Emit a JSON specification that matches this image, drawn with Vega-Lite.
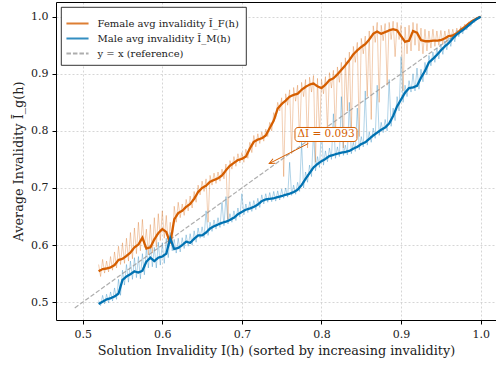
{
"$schema": "https://vega.github.io/schema/vega-lite/v6.json",
"width": 440, "height": 318,
"autosize": {"type": "none"},
"padding": {"left": 56, "top": 2, "right": 0, "bottom": 45},
"datasets": {
"smooth": [
{"x":0.520,"Female":0.554,"Male":0.497},{"x":0.525,"Female":0.558,"Male":0.501},{"x":0.530,"Female":0.559,"Male":0.505},{"x":0.535,"Female":0.561,"Male":0.507},{"x":0.540,"Female":0.565,"Male":0.510},{"x":0.545,"Female":0.574,"Male":0.515},{"x":0.550,"Female":0.576,"Male":0.539},{"x":0.555,"Female":0.581,"Male":0.545},{"x":0.560,"Female":0.587,"Male":0.549},{"x":0.565,"Female":0.596,"Male":0.554},{"x":0.570,"Female":0.601,"Male":0.552},{"x":0.575,"Female":0.613,"Male":0.555},{"x":0.580,"Female":0.594,"Male":0.571},{"x":0.585,"Female":0.596,"Male":0.578},{"x":0.590,"Female":0.610,"Male":0.572},{"x":0.595,"Female":0.621,"Male":0.578},{"x":0.600,"Female":0.628,"Male":0.580},{"x":0.605,"Female":0.623,"Male":0.585},{"x":0.610,"Female":0.603,"Male":0.612},{"x":0.615,"Female":0.645,"Male":0.593},{"x":0.620,"Female":0.656,"Male":0.595},{"x":0.625,"Female":0.660,"Male":0.600},{"x":0.630,"Female":0.667,"Male":0.606},{"x":0.635,"Female":0.672,"Male":0.604},{"x":0.640,"Female":0.681,"Male":0.611},{"x":0.645,"Female":0.693,"Male":0.617},{"x":0.650,"Female":0.700,"Male":0.617},{"x":0.655,"Female":0.704,"Male":0.622},{"x":0.660,"Female":0.711,"Male":0.629},{"x":0.665,"Female":0.714,"Male":0.633},{"x":0.670,"Female":0.717,"Male":0.636},{"x":0.675,"Female":0.722,"Male":0.639},{"x":0.680,"Female":0.731,"Male":0.641},{"x":0.685,"Female":0.739,"Male":0.644},{"x":0.690,"Female":0.744,"Male":0.648},{"x":0.695,"Female":0.749,"Male":0.654},{"x":0.700,"Female":0.751,"Male":0.658},{"x":0.705,"Female":0.755,"Male":0.662},{"x":0.710,"Female":0.769,"Male":0.664},{"x":0.715,"Female":0.781,"Male":0.667},{"x":0.720,"Female":0.785,"Male":0.671},{"x":0.725,"Female":0.787,"Male":0.677},{"x":0.730,"Female":0.792,"Male":0.680},{"x":0.735,"Female":0.805,"Male":0.681},{"x":0.740,"Female":0.818,"Male":0.682},{"x":0.745,"Female":0.839,"Male":0.684},{"x":0.750,"Female":0.847,"Male":0.686},{"x":0.755,"Female":0.853,"Male":0.688},{"x":0.760,"Female":0.860,"Male":0.690},{"x":0.765,"Female":0.863,"Male":0.693},{"x":0.770,"Female":0.865,"Male":0.697},{"x":0.775,"Female":0.872,"Male":0.705},{"x":0.780,"Female":0.877,"Male":0.716},{"x":0.785,"Female":0.881,"Male":0.726},{"x":0.790,"Female":0.883,"Male":0.736},{"x":0.795,"Female":0.878,"Male":0.742},{"x":0.800,"Female":0.875,"Male":0.747},{"x":0.805,"Female":0.881,"Male":0.751},{"x":0.810,"Female":0.889,"Male":0.756},{"x":0.815,"Female":0.892,"Male":0.758},{"x":0.820,"Female":0.899,"Male":0.760},{"x":0.825,"Female":0.907,"Male":0.762},{"x":0.830,"Female":0.915,"Male":0.763},{"x":0.835,"Female":0.924,"Male":0.765},{"x":0.840,"Female":0.934,"Male":0.769},{"x":0.845,"Female":0.941,"Male":0.772},{"x":0.850,"Female":0.947,"Male":0.777},{"x":0.855,"Female":0.952,"Male":0.780},{"x":0.860,"Female":0.960,"Male":0.786},{"x":0.865,"Female":0.970,"Male":0.792},{"x":0.870,"Female":0.974,"Male":0.797},{"x":0.875,"Female":0.970,"Male":0.802},{"x":0.880,"Female":0.973,"Male":0.806},{"x":0.885,"Female":0.976,"Male":0.813},{"x":0.890,"Female":0.978,"Male":0.826},{"x":0.895,"Female":0.976,"Male":0.843},{"x":0.900,"Female":0.966,"Male":0.855},{"x":0.905,"Female":0.956,"Male":0.867},{"x":0.910,"Female":0.958,"Male":0.875},{"x":0.915,"Female":0.975,"Male":0.876},{"x":0.920,"Female":0.972,"Male":0.879},{"x":0.925,"Female":0.959,"Male":0.893},{"x":0.930,"Female":0.957,"Male":0.905},{"x":0.935,"Female":0.957,"Male":0.920},{"x":0.940,"Female":0.958,"Male":0.926},{"x":0.945,"Female":0.958,"Male":0.933},{"x":0.950,"Female":0.959,"Male":0.941},{"x":0.955,"Female":0.962,"Male":0.948},{"x":0.960,"Female":0.966,"Male":0.954},{"x":0.965,"Female":0.967,"Male":0.962},{"x":0.970,"Female":0.971,"Male":0.969},{"x":0.975,"Female":0.977,"Male":0.974},{"x":0.980,"Female":0.982,"Male":0.979},{"x":0.985,"Female":0.988,"Male":0.985},{"x":0.990,"Female":0.993,"Male":0.991},{"x":0.995,"Female":0.997,"Male":0.996},{"x":1.000,"Female":1.000,"Male":1.000}
],
"raw": [
{"x":0.5200,"Female":0.566,"Male":0.503},{"x":0.5225,"Female":0.545,"Male":0.494},{"x":0.5250,"Female":0.575,"Male":0.512},{"x":0.5275,"Female":0.551,"Male":0.497},{"x":0.5300,"Female":0.572,"Male":0.514},{"x":0.5325,"Female":0.553,"Male":0.499},{"x":0.5350,"Female":0.580,"Male":0.518},{"x":0.5375,"Female":0.556,"Male":0.502},{"x":0.5400,"Female":0.588,"Male":0.525},{"x":0.5425,"Female":0.560,"Male":0.505},
{"x":0.5450,"Female":0.598,"Male":0.540},{"x":0.5475,"Female":0.566,"Male":0.512},{"x":0.5500,"Female":0.604,"Male":0.556},{"x":0.5525,"Female":0.568,"Male":0.530},{"x":0.5550,"Female":0.612,"Male":0.566},{"x":0.5575,"Female":0.572,"Male":0.535},{"x":0.5600,"Female":0.622,"Male":0.572},{"x":0.5625,"Female":0.576,"Male":0.540},{"x":0.5650,"Female":0.630,"Male":0.578},{"x":0.5675,"Female":0.585,"Male":0.543},
{"x":0.5700,"Female":0.640,"Male":0.580},{"x":0.5725,"Female":0.590,"Male":0.541},{"x":0.5750,"Female":0.645,"Male":0.585},{"x":0.5775,"Female":0.596,"Male":0.548},{"x":0.5800,"Female":0.628,"Male":0.595},{"x":0.5825,"Female":0.583,"Male":0.560},{"x":0.5850,"Female":0.636,"Male":0.600},{"x":0.5875,"Female":0.586,"Male":0.562},{"x":0.5900,"Female":0.648,"Male":0.596},{"x":0.5925,"Female":0.596,"Male":0.560},
{"x":0.5950,"Female":0.655,"Male":0.605},{"x":0.5975,"Female":0.608,"Male":0.565},{"x":0.6000,"Female":0.660,"Male":0.604},{"x":0.6025,"Female":0.612,"Male":0.568},{"x":0.6050,"Female":0.652,"Male":0.612},{"x":0.6075,"Female":0.600,"Male":0.578},{"x":0.6100,"Female":0.640,"Male":0.622},{"x":0.6125,"Female":0.598,"Male":0.590},{"x":0.6150,"Female":0.668,"Male":0.610},{"x":0.6175,"Female":0.640,"Male":0.586},
{"x":0.6200,"Female":0.675,"Male":0.612},{"x":0.6225,"Female":0.648,"Male":0.588},{"x":0.6250,"Female":0.672,"Male":0.613},{"x":0.6275,"Female":0.652,"Male":0.594},{"x":0.6300,"Female":0.680,"Male":0.618},{"x":0.6325,"Female":0.660,"Male":0.598},{"x":0.6350,"Female":0.686,"Male":0.620},{"x":0.6375,"Female":0.665,"Male":0.600},{"x":0.6400,"Female":0.694,"Male":0.625},{"x":0.6425,"Female":0.675,"Male":0.605},
{"x":0.6450,"Female":0.705,"Male":0.630},{"x":0.6475,"Female":0.688,"Male":0.612},{"x":0.6500,"Female":0.712,"Male":0.632},{"x":0.6525,"Female":0.694,"Male":0.613},{"x":0.6550,"Female":0.716,"Male":0.660},{"x":0.6575,"Female":0.640,"Male":0.617},{"x":0.6600,"Female":0.722,"Male":0.640},{"x":0.6625,"Female":0.705,"Male":0.624},{"x":0.6650,"Female":0.726,"Male":0.644},{"x":0.6675,"Female":0.708,"Male":0.628},
{"x":0.6700,"Female":0.728,"Male":0.648},{"x":0.6725,"Female":0.712,"Male":0.631},{"x":0.6750,"Female":0.733,"Male":0.675},{"x":0.6775,"Female":0.716,"Male":0.634},{"x":0.6800,"Female":0.742,"Male":0.685},{"x":0.6825,"Female":0.645,"Male":0.637},{"x":0.6850,"Female":0.748,"Male":0.655},{"x":0.6875,"Female":0.733,"Male":0.640},{"x":0.6900,"Female":0.755,"Male":0.660},{"x":0.6925,"Female":0.738,"Male":0.643},
{"x":0.6950,"Female":0.760,"Male":0.665},{"x":0.6975,"Female":0.744,"Male":0.649},{"x":0.7000,"Female":0.762,"Male":0.690},{"x":0.7025,"Female":0.745,"Male":0.653},{"x":0.7050,"Female":0.768,"Male":0.672},{"x":0.7075,"Female":0.752,"Male":0.657},{"x":0.7100,"Female":0.780,"Male":0.676},{"x":0.7125,"Female":0.762,"Male":0.659},{"x":0.7150,"Female":0.792,"Male":0.678},{"x":0.7175,"Female":0.772,"Male":0.662},
{"x":0.7200,"Female":0.795,"Male":0.682},{"x":0.7225,"Female":0.778,"Male":0.666},{"x":0.7250,"Female":0.798,"Male":0.688},{"x":0.7275,"Female":0.782,"Male":0.672},{"x":0.7300,"Female":0.803,"Male":0.690},{"x":0.7325,"Female":0.790,"Male":0.675},{"x":0.7350,"Female":0.815,"Male":0.692},{"x":0.7375,"Female":0.800,"Male":0.676},{"x":0.7400,"Female":0.832,"Male":0.694},{"x":0.7425,"Female":0.822,"Male":0.677},
{"x":0.7450,"Female":0.850,"Male":0.695},{"x":0.7475,"Female":0.835,"Male":0.679},{"x":0.7500,"Female":0.858,"Male":0.698},{"x":0.7525,"Female":0.720,"Male":0.682},{"x":0.7550,"Female":0.865,"Male":0.700},{"x":0.7575,"Female":0.845,"Male":0.684},{"x":0.7600,"Female":0.872,"Male":0.745},{"x":0.7625,"Female":0.760,"Male":0.687},{"x":0.7650,"Female":0.876,"Male":0.705},{"x":0.7675,"Female":0.852,"Male":0.689},
{"x":0.7700,"Female":0.880,"Male":0.710},{"x":0.7725,"Female":0.780,"Male":0.694},{"x":0.7750,"Female":0.885,"Male":0.780},{"x":0.7775,"Female":0.860,"Male":0.700},{"x":0.7800,"Female":0.890,"Male":0.728},{"x":0.7825,"Female":0.770,"Male":0.710},{"x":0.7850,"Female":0.894,"Male":0.740},{"x":0.7875,"Female":0.868,"Male":0.720},{"x":0.7900,"Female":0.897,"Male":0.800},{"x":0.7925,"Female":0.745,"Male":0.730},
{"x":0.7950,"Female":0.892,"Male":0.755},{"x":0.7975,"Female":0.790,"Male":0.736},{"x":0.8000,"Female":0.890,"Male":0.805},{"x":0.8025,"Female":0.865,"Male":0.740},{"x":0.8050,"Female":0.895,"Male":0.765},{"x":0.8075,"Female":0.800,"Male":0.746},{"x":0.8100,"Female":0.902,"Male":0.770},{"x":0.8125,"Female":0.875,"Male":0.750},{"x":0.8150,"Female":0.906,"Male":0.830},{"x":0.8175,"Female":0.790,"Male":0.752},
{"x":0.8200,"Female":0.912,"Male":0.772},{"x":0.8225,"Female":0.885,"Male":0.755},{"x":0.8250,"Female":0.920,"Male":0.860},{"x":0.8275,"Female":0.770,"Male":0.757},{"x":0.8300,"Female":0.928,"Male":0.775},{"x":0.8325,"Female":0.835,"Male":0.758},{"x":0.8350,"Female":0.938,"Male":0.850},{"x":0.8375,"Female":0.800,"Male":0.760},{"x":0.8400,"Female":0.948,"Male":0.780},{"x":0.8425,"Female":0.920,"Male":0.764},
{"x":0.8450,"Female":0.955,"Male":0.840},{"x":0.8475,"Female":0.790,"Male":0.767},{"x":0.8500,"Female":0.962,"Male":0.790},{"x":0.8525,"Female":0.935,"Male":0.772},{"x":0.8550,"Female":0.966,"Male":0.870},{"x":0.8575,"Female":0.860,"Male":0.775},{"x":0.8600,"Female":0.975,"Male":0.798},{"x":0.8625,"Female":0.820,"Male":0.780},{"x":0.8650,"Female":0.984,"Male":0.805},{"x":0.8675,"Female":0.955,"Male":0.787},
{"x":0.8700,"Female":0.990,"Male":0.880},{"x":0.8725,"Female":0.850,"Male":0.792},{"x":0.8750,"Female":0.985,"Male":0.815},{"x":0.8775,"Female":0.958,"Male":0.797},{"x":0.8800,"Female":0.988,"Male":0.820},{"x":0.8825,"Female":0.880,"Male":0.800},{"x":0.8850,"Female":0.990,"Male":0.890},{"x":0.8875,"Female":0.960,"Male":0.808},{"x":0.8900,"Female":0.992,"Male":0.840},{"x":0.8925,"Female":0.930,"Male":0.818},
{"x":0.8950,"Female":0.990,"Male":0.860},{"x":0.8975,"Female":0.960,"Male":0.835},{"x":0.9000,"Female":0.985,"Male":0.930},{"x":0.9025,"Female":0.870,"Male":0.850},{"x":0.9050,"Female":0.982,"Male":0.880},{"x":0.9075,"Female":0.935,"Male":0.860},{"x":0.9100,"Female":0.985,"Male":0.888},{"x":0.9125,"Female":0.940,"Male":0.868},{"x":0.9150,"Female":0.990,"Male":0.900},{"x":0.9175,"Female":0.950,"Male":0.870},
{"x":0.9200,"Female":0.988,"Male":0.910},{"x":0.9225,"Female":0.940,"Male":0.873},{"x":0.9250,"Female":0.980,"Male":0.908},{"x":0.9275,"Female":0.935,"Male":0.886},{"x":0.9300,"Female":0.978,"Male":0.920},{"x":0.9325,"Female":0.940,"Male":0.898},{"x":0.9350,"Female":0.975,"Male":0.932},{"x":0.9375,"Female":0.945,"Male":0.914},{"x":0.9400,"Female":0.978,"Male":0.938},{"x":0.9425,"Female":0.948,"Male":0.920},
{"x":0.9450,"Female":0.975,"Male":0.945},{"x":0.9475,"Female":0.950,"Male":0.926},{"x":0.9500,"Female":0.976,"Male":0.952},{"x":0.9525,"Female":0.952,"Male":0.934},{"x":0.9550,"Female":0.975,"Male":0.958},{"x":0.9575,"Female":0.955,"Male":0.942},{"x":0.9600,"Female":0.978,"Male":0.963},{"x":0.9625,"Female":0.960,"Male":0.948},{"x":0.9650,"Female":0.978,"Male":0.970},{"x":0.9675,"Female":0.962,"Male":0.956},
{"x":0.9700,"Female":0.980,"Male":0.976},{"x":0.9725,"Female":0.968,"Male":0.965},{"x":0.9750,"Female":0.983,"Male":0.980},{"x":0.9775,"Female":0.975,"Male":0.970},{"x":0.9800,"Female":0.987,"Male":0.984},{"x":0.9825,"Female":0.982,"Male":0.977},{"x":0.9850,"Female":0.991,"Male":0.988},{"x":0.9875,"Female":0.988,"Male":0.983},{"x":0.9900,"Female":0.995,"Male":0.993},{"x":0.9925,"Female":0.994,"Male":0.990},
{"x":0.9950,"Female":0.998,"Male":0.997},{"x":0.9975,"Female":0.998,"Male":0.996},{"x":1.0000,"Female":1.000,"Male":1.000}
],
"ref": [{"x":0.49,"value":0.49,"key":"Reference"},{"x":1.0,"value":1.0,"key":"Reference"}],
"box": [{"x1":0.7667,"x2":0.8446,"y1":0.7814,"y2":0.806,"tx":0.8057,"ty":0.7937,"label":"ΔĪ = 0.093","ax":0.7834,"ay":0.7779,"hx":0.7344,"hy":0.7429}]
},
"layer": [
{
"data": {"name": "raw"},
"mark": {"type": "line", "color": "#D55E00", "opacity": 0.3, "strokeWidth": 1, "clip": true},
"encoding": {
"x": {"field": "x", "type": "quantitative", "scale": {"domain": [0.46646, 1.01926], "nice": false, "zero": false},
"axis": {"values": [0.5, 0.6, 0.7, 0.8, 0.9, 1.0], "format": ".1f", "title": "Solution Invalidity I(h) (sorted by increasing invalidity)", "grid": true}},
"y": {"field": "Female", "type": "quantitative", "scale": {"domain": [0.46883, 1.02573], "nice": false, "zero": false},
"axis": {"values": [0.5, 0.6, 0.7, 0.8, 0.9, 1.0], "format": ".1f", "title": "Average Invalidity Ī_g(h)", "grid": true}}
}
},
{
"data": {"name": "raw"},
"mark": {"type": "line", "color": "#0072B2", "opacity": 0.3, "strokeWidth": 1, "clip": true},
"encoding": {
"x": {"field": "x", "type": "quantitative", "axis": null},
"y": {"field": "Male", "type": "quantitative"}
}
},
{
"data": {"name": "ref"},
"mark": {"type": "line", "strokeWidth": 1.2, "opacity": 0.8},
"encoding": {
"x": {"field": "x", "type": "quantitative", "axis": {"orient": "top", "labels": false, "ticks": false, "grid": false, "title": null, "domain": true}},
"y": {"field": "value", "type": "quantitative"},
"color": {"field": "key", "type": "nominal"},
"strokeDash": {"field": "key", "type": "nominal"}
}
},
{
"data": {"name": "smooth"},
"transform": [{"fold": ["Female", "Male"], "as": ["key", "value"]}],
"mark": {"type": "line", "strokeWidth": 2.3},
"encoding": {
"x": {"field": "x", "type": "quantitative", "axis": null},
"y": {"field": "value", "type": "quantitative"},
"color": {"field": "key", "type": "nominal",
"scale": {"domain": ["Female", "Male", "Reference"], "range": ["#D55E00", "#0072B2", "#999999"]},
"legend": {"title": null, "orient": "top-left",
"labelExpr": "datum.value == 'Female' ? 'Female avg invalidity Ī_F(h)' : datum.value == 'Male' ? 'Male avg invalidity Ī_M(h)' : 'y = x (reference)'"}},
"strokeDash": {"field": "key", "type": "nominal",
"scale": {"domain": ["Female", "Male", "Reference"], "range": [[1, 0], [1, 0], [4.5, 2]]},
"legend": {"title": null, "orient": "top-left",
"labelExpr": "datum.value == 'Female' ? 'Female avg invalidity Ī_F(h)' : datum.value == 'Male' ? 'Male avg invalidity Ī_M(h)' : 'y = x (reference)'"}}
}
},
{
"data": {"name": "box"},
"mark": {"type": "rule", "color": "#D55E00", "strokeWidth": 1},
"encoding": {
"x": {"field": "ax", "type": "quantitative", "axis": null},
"y": {"field": "ay", "type": "quantitative"},
"x2": {"field": "hx"},
"y2": {"field": "hy"}
}
},
{
"data": {"name": "box"},
"mark": {"type": "point", "shape": "M -0.45 1 L 0 0 L 0.45 1", "filled": false, "color": "#D55E00", "strokeWidth": 1, "size": 120, "angle": 242.8, "opacity": 1},
"encoding": {
"x": {"field": "hx", "type": "quantitative", "axis": null},
"y": {"field": "hy", "type": "quantitative"}
}
},
{
"data": {"name": "box"},
"mark": {"type": "rect", "fill": "white", "stroke": "#D55E00", "strokeWidth": 1, "cornerRadius": 3},
"encoding": {
"x": {"field": "x1", "type": "quantitative", "axis": null},
"x2": {"field": "x2"},
"y": {"field": "y1", "type": "quantitative"},
"y2": {"field": "y2"}
}
},
{
"data": {"name": "box"},
"mark": {"type": "text", "color": "#D55E00", "fontSize": 10.5, "font": "DejaVu Serif", "align": "center", "baseline": "middle"},
"encoding": {
"x": {"field": "tx", "type": "quantitative", "axis": null},
"y": {"field": "ty", "type": "quantitative"},
"text": {"field": "label"}
}
}
],
"resolve": {"axis": {"x": "independent"}},
"config": {
"font": "DejaVu Serif",
"view": {"stroke": null},
"axis": {"domainColor": "black", "domainWidth": 1, "tickColor": "black", "tickSize": 4, "tickWidth": 1,
"labelFont": "DejaVu Serif", "labelFontSize": 11, "labelColor": "#222222", "labelPadding": 4,
"titleFont": "DejaVu Serif", "titleFontSize": 12.8, "titleFontWeight": "normal", "titleColor": "#222222", "titlePadding": 5,
"gridColor": "#cccccc", "gridDash": [2, 2], "gridWidth": 0.8},
"legend": {"offset": 5, "padding": 6.5, "strokeColor": "black", "fillColor": "white", "cornerRadius": 0, "strokeWidth": 0.8,
"labelFont": "DejaVu Serif", "labelFontSize": 10, "labelColor": "#222222", "labelOffset": 10,
"symbolType": "M-1.3,0H1.3", "symbolSize": 289, "symbolStrokeWidth": 2.2, "rowPadding": 0}
}
}
